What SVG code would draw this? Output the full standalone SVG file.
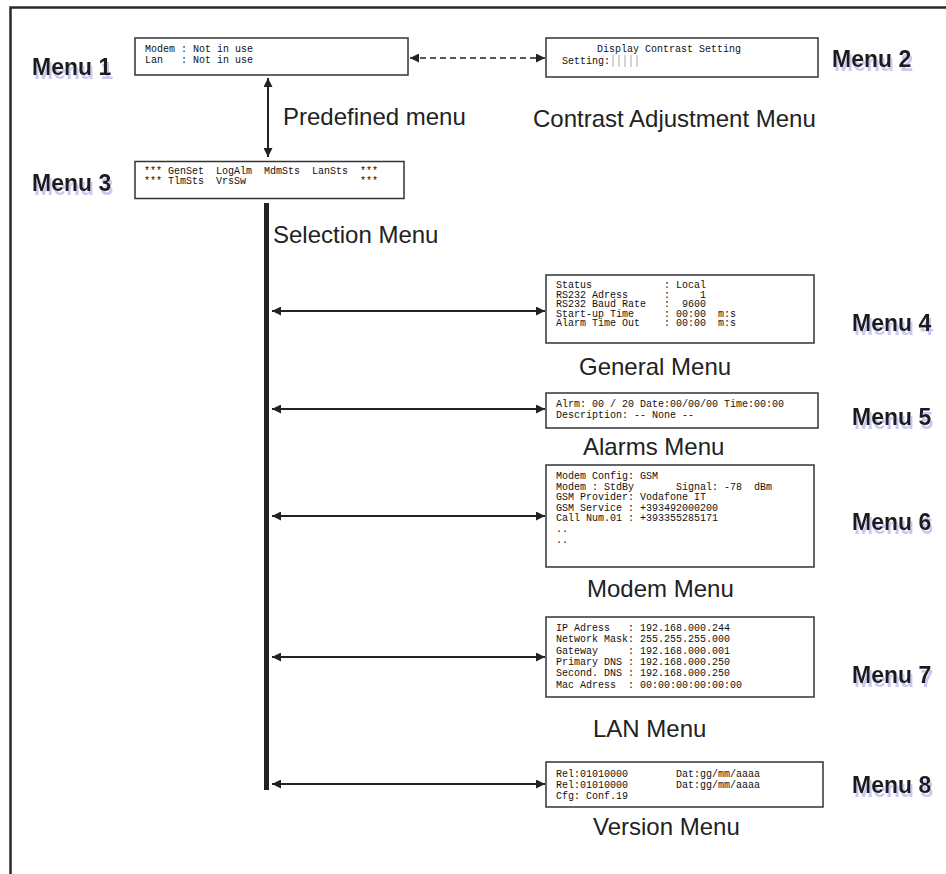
<svg xmlns="http://www.w3.org/2000/svg" width="946" height="874" viewBox="0 0 946 874">
<style>
.frame{fill:none;stroke:#2a2a2a;stroke-width:2.5}
.box{fill:#fff;stroke:#333;stroke-width:1.5}
.mono{font-family:"Liberation Mono","Courier New",monospace;font-size:10px;fill:#111}
.lbl{font-family:"Liberation Sans",Arial,sans-serif;font-size:24px;fill:#222}
.mn{font-family:"Liberation Sans",Arial,sans-serif;font-size:23px;font-weight:bold;fill:#1a1a1a;filter:url(#shadow)}
.conn{fill:none;stroke:#222;stroke-width:2}
.dash{fill:none;stroke:#222;stroke-width:1.6;stroke-dasharray:6 4}
.bar{fill:#222}
.tick{stroke:#aaa;stroke-width:1}
</style>
<defs>
<marker id="ah" viewBox="0 0 10 10" refX="10" refY="5" markerWidth="11" markerHeight="9" markerUnits="userSpaceOnUse" orient="auto-start-reverse">
<path d="M0,0 L10,5 L0,10 z" fill="#222"/>
</marker>
<filter id="shadow" x="-10%" y="-20%" width="130%" height="170%">
<feFlood flood-color="#c8c8f0"/>
<feComposite in2="SourceAlpha" operator="in"/>
<feOffset dx="2" dy="4" result="s"/>
<feMerge><feMergeNode in="s"/><feMergeNode in="SourceGraphic"/></feMerge>
</filter>
</defs>
<rect width="946" height="874" fill="#fff"/>
<path class="frame" d="M10.5,874 V7.5 H946"/>

<g id="connectors">
<line class="dash" x1="410" y1="58" x2="545" y2="58" marker-start="url(#ah)" marker-end="url(#ah)"/>
<line class="conn" x1="268" y1="78" x2="268" y2="157" marker-start="url(#ah)" marker-end="url(#ah)"/>
<rect class="bar" x="264" y="203" width="5" height="587"/>
<line class="conn" x1="272" y1="311" x2="545" y2="311" marker-start="url(#ah)" marker-end="url(#ah)"/>
<line class="conn" x1="272" y1="409" x2="545" y2="409" marker-start="url(#ah)" marker-end="url(#ah)"/>
<line class="conn" x1="272" y1="516" x2="545" y2="516" marker-start="url(#ah)" marker-end="url(#ah)"/>
<line class="conn" x1="272" y1="657" x2="545" y2="657" marker-start="url(#ah)" marker-end="url(#ah)"/>
<line class="conn" x1="272" y1="784" x2="545" y2="784" marker-start="url(#ah)" marker-end="url(#ah)"/>
</g>

<g id="labels">
<text class="lbl" x="283" y="125">Predefined menu</text>
<text class="lbl" x="533" y="127">Contrast Adjustment Menu</text>
<text class="lbl" x="273" y="243">Selection Menu</text>
<text class="lbl" x="579" y="375">General Menu</text>
<text class="lbl" x="583" y="455">Alarms Menu</text>
<text class="lbl" x="587" y="597">Modem Menu</text>
<text class="lbl" x="593" y="737">LAN Menu</text>
<text class="lbl" x="593" y="835">Version Menu</text>
</g>

<g id="menu1">
<rect class="box" x="135" y="38" width="273" height="37"/>
<text class="mono" xml:space="preserve" x="145" y="52">Modem : Not in use</text>
<text class="mono" xml:space="preserve" x="145" y="63">Lan   : Not in use</text>
<text class="mn" x="32" y="75">Menu 1</text>
</g>

<g id="menu2">
<rect class="box" x="546" y="38" width="272" height="39"/>
<text class="mono" xml:space="preserve" x="597" y="52">Display Contrast Setting</text>
<text class="mono" xml:space="preserve" x="562" y="64">Setting:</text>
<line class="tick" x1="613" y1="55" x2="613" y2="67"/>
<line class="tick" x1="619" y1="55" x2="619" y2="67"/>
<line class="tick" x1="625" y1="55" x2="625" y2="67"/>
<line class="tick" x1="631" y1="55" x2="631" y2="67"/>
<line class="tick" x1="637" y1="55" x2="637" y2="67"/>
<text class="mn" x="832" y="67">Menu 2</text>
</g>

<g id="menu3">
<rect class="box" x="135" y="161.5" width="269" height="37"/>
<text class="mono" xml:space="preserve" x="144" y="174">*** GenSet  LogAlm  MdmSts  LanSts  ***</text>
<text class="mono" xml:space="preserve" x="144" y="184">*** TlmSts  VrsSw                   ***</text>
<text class="mn" x="32" y="191">Menu 3</text>
</g>

<g id="menu4">
<rect class="box" x="546" y="275" width="268" height="68"/>
<text class="mono" xml:space="preserve" x="556" y="288">Status            : Local</text>
<text class="mono" xml:space="preserve" x="556" y="297.5">RS232 Adress      :     1</text>
<text class="mono" xml:space="preserve" x="556" y="307">RS232 Baud Rate   :  9600</text>
<text class="mono" xml:space="preserve" x="556" y="316.5">Start-up Time     : 00:00  m:s</text>
<text class="mono" xml:space="preserve" x="556" y="326">Alarm Time Out    : 00:00  m:s</text>
<text class="mn" x="852" y="331">Menu 4</text>
</g>

<g id="menu5">
<rect class="box" x="546" y="393" width="272" height="35"/>
<text class="mono" xml:space="preserve" x="556" y="406.5">Alrm: 00 / 20 Date:00/00/00 Time:00:00</text>
<text class="mono" xml:space="preserve" x="556" y="418">Description: -- None --</text>
<text class="mn" x="852" y="425">Menu 5</text>
</g>

<g id="menu6">
<rect class="box" x="546" y="465" width="268" height="102"/>
<text class="mono" xml:space="preserve" x="556" y="479">Modem Config: GSM</text>
<text class="mono" xml:space="preserve" x="556" y="489.6">Modem : StdBy       Signal: -78  dBm</text>
<text class="mono" xml:space="preserve" x="556" y="500.2">GSM Provider: Vodafone IT</text>
<text class="mono" xml:space="preserve" x="556" y="510.8">GSM Service : +393492000200</text>
<text class="mono" xml:space="preserve" x="556" y="521.4">Call Num.01 : +393355285171</text>
<text class="mono" xml:space="preserve" x="556" y="532">..</text>
<text class="mono" xml:space="preserve" x="556" y="542.6">..</text>
<text class="mn" x="852" y="530">Menu 6</text>
</g>

<g id="menu7">
<rect class="box" x="546" y="617" width="268" height="80"/>
<text class="mono" xml:space="preserve" x="556" y="631">IP Adress   : 192.168.000.244</text>
<text class="mono" xml:space="preserve" x="556" y="642.3">Network Mask: 255.255.255.000</text>
<text class="mono" xml:space="preserve" x="556" y="653.6">Gateway     : 192.168.000.001</text>
<text class="mono" xml:space="preserve" x="556" y="664.9">Primary DNS : 192.168.000.250</text>
<text class="mono" xml:space="preserve" x="556" y="676.2">Second. DNS : 192.168.000.250</text>
<text class="mono" xml:space="preserve" x="556" y="687.5">Mac Adress  : 00:00:00:00:00:00</text>
<text class="mn" x="852" y="683">Menu 7</text>
</g>

<g id="menu8">
<rect class="box" x="546" y="762" width="277" height="45"/>
<text class="mono" xml:space="preserve" x="556" y="777">Rel:01010000        Dat:gg/mm/aaaa</text>
<text class="mono" xml:space="preserve" x="556" y="788">Rel:01010000        Dat:gg/mm/aaaa</text>
<text class="mono" xml:space="preserve" x="556" y="799">Cfg: Conf.19</text>
<text class="mn" x="852" y="793">Menu 8</text>
</g>
</svg>
